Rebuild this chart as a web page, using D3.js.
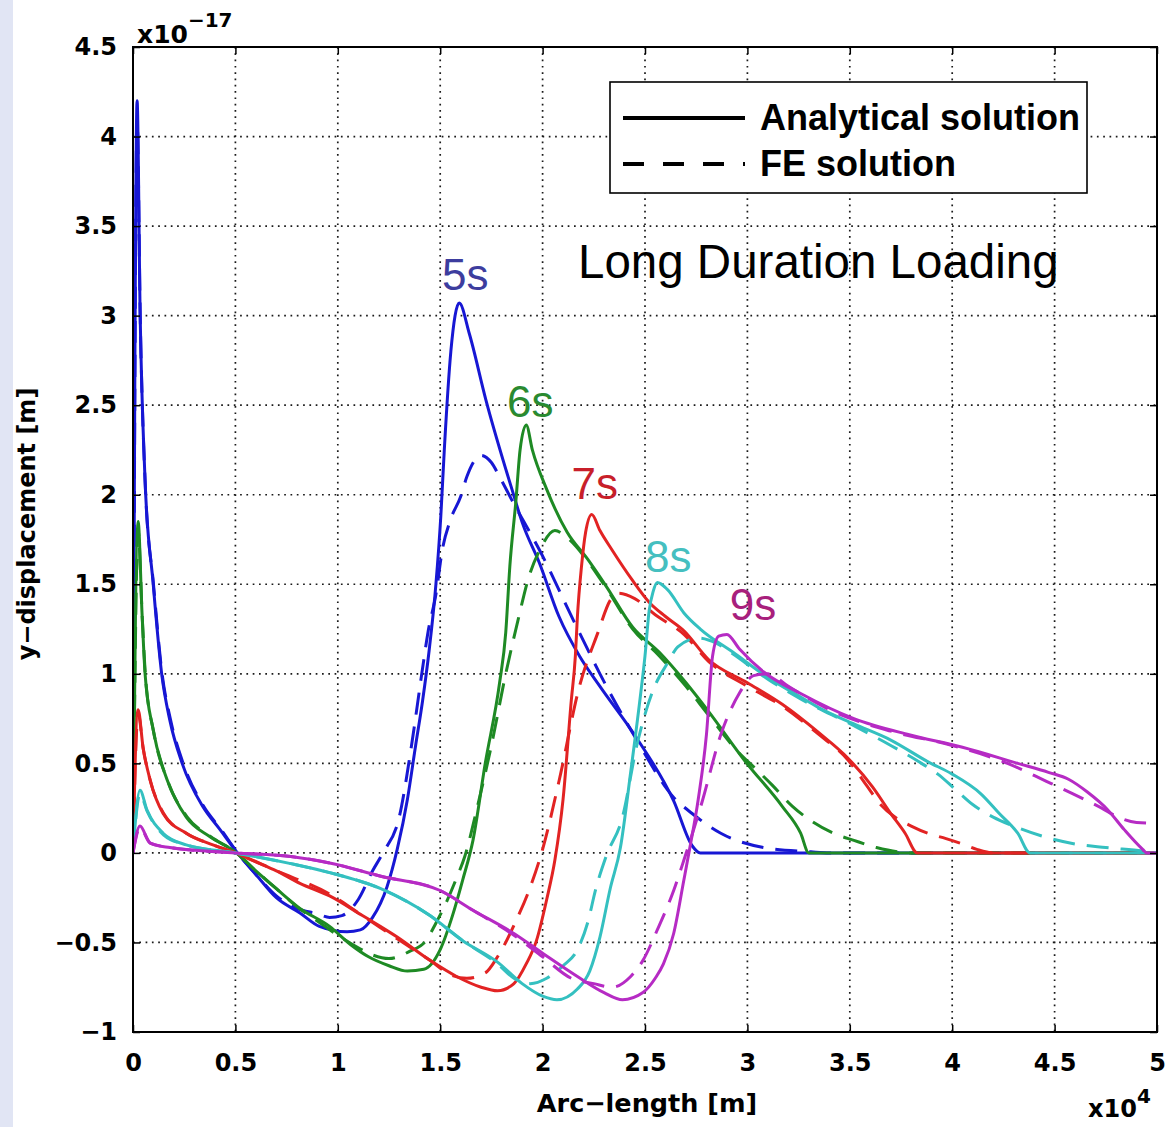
<!DOCTYPE html>
<html>
<head>
<meta charset="utf-8">
<script src="https://cdn.jsdelivr.net/npm/d3@7"></script>
<style>
	body { margin: 0; background: #fff; }
	svg { display: block; }
</style>
</head>
<body>
<script>
const w = 1173
const h = 1127
const plot = { left: 133, right: 1157, top: 47, bottom: 1032 }

// x: arc-length in 1e4 m, y: displacement in 1e-17 m
const xTicks = [0, 0.5, 1, 1.5, 2, 2.5, 3, 3.5, 4, 4.5, 5]
const yTicks = [-1, -0.5, 0, 0.5, 1, 1.5, 2, 2.5, 3, 3.5, 4, 4.5]
const times = ["5s", "6s", "7s", "8s", "9s"]
const legendLabels = ["Analytical solution", "FE solution"]

// 5s
const sol5 = [[0,0],[0.02,4.2],[0.035,3.0],[0.059,2.08],[0.098,1.51],[0.14,1.0],[0.18,0.74],[0.24,0.5],[0.34,0.26],[0.425,0.13],[0.51,0],[0.6,-0.12],[0.7,-0.25],[0.815,-0.335],[0.91,-0.41],[1.045,-0.44],[1.11,-0.43],[1.17,-0.36],[1.24,-0.19],[1.29,0.02],[1.34,0.3],[1.38,0.6],[1.414,0.85],[1.446,1.13],[1.479,1.5],[1.503,1.88],[1.52,2.25],[1.552,2.8],[1.593,3.07],[1.642,2.9],[1.723,2.53],[1.853,2.02],[1.902,1.84],[1.984,1.62],[2.08,1.32],[2.18,1.1],[2.28,0.93],[2.46,0.64],[2.64,0.29],[2.73,0.04],[2.77,0],[3.2,0],[5,0]]
const fe5 = [[0,0],[0.02,4.1],[0.036,2.95],[0.06,2.05],[0.1,1.5],[0.142,1.0],[0.182,0.75],[0.245,0.5],[0.345,0.26],[0.43,0.13],[0.51,0],[0.6,-0.12],[0.7,-0.24],[0.8,-0.31],[0.9,-0.34],[0.96,-0.36],[1.02,-0.35],[1.1,-0.26],[1.17,-0.1],[1.22,0],[1.3,0.2],[1.36,0.6],[1.41,1.0],[1.44,1.23],[1.48,1.45],[1.51,1.69],[1.55,1.86],[1.6,1.99],[1.63,2.1],[1.7,2.22],[1.75,2.18],[1.79,2.1],[1.85,1.97],[1.99,1.68],[2.15,1.3],[2.28,1.0],[2.46,0.63],[2.64,0.31],[2.73,0.22],[2.87,0.11],[3.08,0.03],[3.31,0.006],[3.4,0],[5,0]]

// 6s
const sol6 = [[0,0],[0.025,1.85],[0.044,1.34],[0.059,1.0],[0.098,0.69],[0.166,0.41],[0.26,0.2],[0.376,0.09],[0.5,0.005],[0.6,-0.1],[0.7,-0.2],[0.815,-0.31],[0.96,-0.41],[1.06,-0.51],[1.15,-0.58],[1.25,-0.63],[1.34,-0.66],[1.42,-0.65],[1.5,-0.54],[1.56,-0.35],[1.61,-0.15],[1.66,0.07],[1.72,0.5],[1.79,0.95],[1.82,1.23],[1.84,1.6],[1.87,1.97],[1.89,2.25],[1.92,2.39],[1.95,2.25],[2.02,2.03],[2.12,1.79],[2.22,1.64],[2.31,1.49],[2.44,1.26],[2.57,1.12],[2.7,0.95],[2.81,0.79],[2.99,0.51],[3.17,0.26],[3.26,0.11],[3.3,0],[5,0]]
const fe6 = [[0,0],[0.025,1.8],[0.045,1.32],[0.06,1.0],[0.1,0.68],[0.17,0.4],[0.265,0.2],[0.38,0.09],[0.5,0.005],[0.6,-0.1],[0.7,-0.2],[0.8,-0.3],[0.9,-0.38],[1.0,-0.46],[1.1,-0.53],[1.17,-0.57],[1.25,-0.59],[1.35,-0.55],[1.43,-0.49],[1.48,-0.39],[1.52,-0.3],[1.58,-0.14],[1.62,-0.02],[1.68,0.25],[1.75,0.6],[1.82,1.0],[1.88,1.3],[1.93,1.53],[1.99,1.7],[2.06,1.8],[2.12,1.76],[2.22,1.63],[2.31,1.48],[2.44,1.25],[2.57,1.1],[2.7,0.93],[2.81,0.77],[2.95,0.57],[3.04,0.47],[3.12,0.38],[3.22,0.26],[3.31,0.18],[3.42,0.11],[3.52,0.07],[3.63,0.03],[3.8,0],[5,0]]

// 7s
const sol7 = [[0,0],[0.025,0.8],[0.049,0.59],[0.083,0.41],[0.147,0.22],[0.26,0.11],[0.39,0.045],[0.5,0],[0.6,-0.05],[0.7,-0.1],[0.815,-0.17],[0.96,-0.24],[1.12,-0.35],[1.29,-0.47],[1.45,-0.6],[1.58,-0.69],[1.7,-0.75],[1.78,-0.77],[1.86,-0.73],[1.92,-0.62],[1.97,-0.49],[2.02,-0.26],[2.06,-0.04],[2.1,0.3],[2.14,0.85],[2.16,1.1],[2.17,1.32],[2.19,1.6],[2.21,1.79],[2.24,1.89],[2.28,1.8],[2.34,1.69],[2.44,1.52],[2.52,1.4],[2.6,1.32],[2.69,1.24],[2.81,1.08],[3.0,0.95],[3.17,0.83],[3.35,0.67],[3.49,0.53],[3.61,0.37],[3.7,0.22],[3.77,0.11],[3.83,0],[5,0]]
const fe7 = [[0,0],[0.025,0.78],[0.05,0.58],[0.085,0.4],[0.15,0.22],[0.26,0.11],[0.39,0.045],[0.5,0],[0.7,-0.1],[0.96,-0.23],[1.12,-0.35],[1.29,-0.48],[1.45,-0.6],[1.55,-0.68],[1.63,-0.7],[1.72,-0.67],[1.78,-0.58],[1.87,-0.38],[1.94,-0.19],[2.0,0.02],[2.08,0.4],[2.18,0.93],[2.27,1.23],[2.33,1.41],[2.37,1.45],[2.45,1.42],[2.55,1.33],[2.69,1.22],[2.81,1.07],[3.0,0.93],[3.17,0.82],[3.35,0.66],[3.49,0.52],[3.58,0.38],[3.65,0.27],[3.72,0.2],[3.8,0.15],[3.88,0.11],[3.97,0.08],[4.05,0.05],[4.12,0.02],[4.2,0],[5,0]]

// 8s
const sol8 = [[0,0],[0.034,0.35],[0.068,0.24],[0.147,0.11],[0.26,0.045],[0.5,0],[0.77,-0.06],[0.96,-0.11],[1.21,-0.2],[1.45,-0.35],[1.61,-0.49],[1.78,-0.61],[1.9,-0.73],[2.0,-0.8],[2.07,-0.82],[2.17,-0.76],[2.23,-0.66],[2.28,-0.47],[2.33,-0.2],[2.38,0.03],[2.43,0.45],[2.48,0.9],[2.5,1.1],[2.52,1.35],[2.54,1.46],[2.56,1.51],[2.61,1.47],[2.69,1.34],[2.77,1.25],[2.93,1.12],[3.1,0.98],[3.26,0.87],[3.35,0.81],[3.52,0.72],[3.7,0.63],[3.88,0.51],[4.0,0.44],[4.14,0.33],[4.23,0.22],[4.32,0.11],[4.38,0],[5,0]]
const fe8 = [[0,0],[0.034,0.33],[0.07,0.23],[0.15,0.1],[0.26,0.045],[0.5,0],[0.77,-0.06],[0.96,-0.11],[1.21,-0.2],[1.45,-0.35],[1.61,-0.49],[1.78,-0.62],[1.86,-0.7],[1.94,-0.73],[2.02,-0.7],[2.1,-0.63],[2.17,-0.54],[2.22,-0.39],[2.26,-0.2],[2.31,-0.02],[2.39,0.2],[2.46,0.6],[2.54,0.91],[2.61,1.06],[2.66,1.15],[2.76,1.2],[2.85,1.17],[2.93,1.11],[3.1,0.97],[3.26,0.86],[3.52,0.71],[3.7,0.6],[3.85,0.5],[3.93,0.44],[4.02,0.35],[4.1,0.27],[4.2,0.2],[4.3,0.15],[4.45,0.09],[4.6,0.05],[4.75,0.03],[4.93,0.01],[5,0]]

// 9s
const sol9 = [[0,0],[0.034,0.15],[0.083,0.055],[0.18,0.03],[0.5,0],[0.77,-0.02],[0.96,-0.056],[1.21,-0.13],[1.5,-0.21],[1.66,-0.32],[1.86,-0.45],[2.0,-0.56],[2.17,-0.69],[2.3,-0.78],[2.39,-0.82],[2.49,-0.78],[2.55,-0.7],[2.59,-0.62],[2.64,-0.45],[2.69,-0.15],[2.72,0.035],[2.76,0.3],[2.8,0.66],[2.83,1.1],[2.86,1.21],[2.9,1.22],[2.96,1.14],[3.08,1.01],[3.26,0.89],[3.52,0.75],[3.79,0.66],[4.05,0.59],[4.32,0.5],[4.47,0.45],[4.57,0.41],[4.66,0.34],[4.76,0.24],[4.84,0.13],[4.93,0.02],[4.95,0],[5,0]]
const fe9 = [[0,0],[0.034,0.14],[0.085,0.055],[0.18,0.03],[0.5,0],[0.77,-0.02],[0.96,-0.056],[1.21,-0.13],[1.5,-0.21],[1.66,-0.32],[1.86,-0.46],[2.0,-0.58],[2.14,-0.7],[2.25,-0.73],[2.34,-0.75],[2.43,-0.69],[2.49,-0.6],[2.56,-0.43],[2.64,-0.21],[2.69,-0.04],[2.78,0.29],[2.87,0.66],[2.96,0.89],[3.03,0.99],[3.1,1.0],[3.2,0.93],[3.4,0.8],[3.7,0.68],[4.0,0.6],[4.27,0.5],[4.46,0.4],[4.59,0.33],[4.73,0.25],[4.81,0.2],[4.9,0.17],[5,0.165]]

const series = [
	{ name: times[0], line: "#1717d4", label: "#3d3d9e", sol: sol5, fe: fe5, dx: 6, dy: -13 },
	{ name: times[1], line: "#1e8a24", label: "#2a8a30", sol: sol6, fe: fe6, dx: 4, dy: -8 },
	{ name: times[2], line: "#e22323", label: "#c81f2a", sol: sol7, fe: fe7, dx: 3, dy: -15 },
	{ name: times[3], line: "#34c0c0", label: "#45bfc0", sol: sol8, fe: fe8, dx: 11, dy: -10 },
	{ name: times[4], line: "#b62bc4", label: "#a8207c", sol: sol9, fe: fe9, dx: 26, dy: -14 }
]

const body = d3.select("body")
const svg = body.append("svg")
	.attr("width", w)
	.attr("height", h)

svg.append("rect")
	.attr("width", w)
	.attr("height", h)
	.attr("fill", "#fff")

// slide background strip on the left
svg.append("rect")
	.attr("width", 13)
	.attr("height", h)
	.attr("fill", "#e1e5f4")

let xScale = d3.scaleLinear()
	.domain([0, 5])
	.range([plot.left, plot.right])

let yScale = d3.scaleLinear()
	.domain([-1, 4.5])
	.range([plot.bottom, plot.top])

// dotted grid
let grid = svg.append("g")
	.attr("stroke", "#1a1a1a")
	.attr("stroke-width", 1.7)
	.attr("stroke-dasharray", "1.7,4.6")

grid.selectAll(".gx")
	.data(xTicks.slice(1, -1))
	.enter()
	.append("line")
	.attr("x1", d => xScale(d))
	.attr("x2", d => xScale(d))
	.attr("y1", plot.top)
	.attr("y2", plot.bottom)

grid.selectAll(".gy")
	.data(yTicks.slice(1, -1))
	.enter()
	.append("line")
	.attr("x1", plot.left)
	.attr("x2", plot.right)
	.attr("y1", d => yScale(d))
	.attr("y2", d => yScale(d))

// curves
svg.append("clipPath")
	.attr("id", "clip")
	.append("rect")
	.attr("x", plot.left)
	.attr("y", plot.top)
	.attr("width", plot.right - plot.left)
	.attr("height", plot.bottom - plot.top)

let line = d3.line()
	.x(d => xScale(d[0]))
	.y(d => yScale(d[1]))
	.curve(d3.curveMonotoneX)

let curves = svg.append("g")
	.attr("clip-path", "url(#clip)")
	.attr("fill", "none")
	.attr("stroke-width", 3)
	.attr("stroke-linejoin", "round")

series.forEach(s => {
	curves.append("path")
		.attr("d", line(s.fe))
		.attr("stroke", s.line)
		.attr("stroke-dasharray", "22,12")
	curves.append("path")
		.attr("d", line(s.sol))
		.attr("stroke", s.line)
})

// axes, ticks point inwards
let tickFont = g => g
	.attr("font-family", "DejaVu Sans, sans-serif")
	.attr("font-size", 24)
	.attr("font-weight", "bold")
	.call(g => g.select(".domain").remove())
	.call(g => g.selectAll("line").attr("stroke", "#000").attr("stroke-width", 1.5))

svg.append("g")
	.attr("transform", "translate(" + plot.left + ",0)")
	.call(d3.axisLeft(yScale).tickValues(yTicks).tickSize(-7).tickPadding(16).tickFormat(d3.format("~g")))
	.call(tickFont)

svg.append("g")
	.attr("transform", "translate(0," + plot.bottom + ")")
	.call(d3.axisBottom(xScale).tickValues(xTicks).tickSize(-7).tickPadding(22).tickFormat(d3.format("~g")))
	.call(tickFont)

svg.append("g")
	.attr("transform", "translate(" + plot.right + ",0)")
	.call(d3.axisRight(yScale).tickValues(yTicks).tickSize(-7).tickFormat(""))
	.call(tickFont)

svg.append("g")
	.attr("transform", "translate(0," + plot.top + ")")
	.call(d3.axisTop(xScale).tickValues(xTicks).tickSize(-7).tickFormat(""))
	.call(tickFont)

svg.append("rect")
	.attr("x", plot.left)
	.attr("y", plot.top)
	.attr("width", plot.right - plot.left)
	.attr("height", plot.bottom - plot.top)
	.attr("fill", "none")
	.attr("stroke", "#000")
	.attr("stroke-width", 2)

// exponent labels
let topExp = svg.append("text")
	.attr("x", plot.left + 4)
	.attr("y", 43)
	.attr("font-family", "DejaVu Sans, sans-serif")
	.attr("font-weight", "bold")
	.attr("font-size", 25)
topExp.append("tspan").text("x10")
topExp.append("tspan").attr("dy", -16).attr("font-size", 20).text("\u221217")

let botExp = svg.append("text")
	.attr("x", 1088)
	.attr("y", 1117)
	.attr("font-family", "DejaVu Sans, sans-serif")
	.attr("font-weight", "bold")
	.attr("font-size", 24)
botExp.append("tspan").text("x10")
botExp.append("tspan").attr("dy", -14).attr("font-size", 20).text("4")

// axis titles
svg.append("text")
	.attr("x", 647)
	.attr("y", 1112)
	.attr("text-anchor", "middle")
	.attr("font-family", "DejaVu Sans, sans-serif")
	.attr("font-weight", "bold")
	.attr("font-size", 25.5)
	.text("Arc\u2212length [m]")

svg.append("text")
	.attr("transform", "translate(35,524) rotate(-90)")
	.attr("text-anchor", "middle")
	.attr("font-family", "DejaVu Sans, sans-serif")
	.attr("font-weight", "bold")
	.attr("font-size", 24)
	.text("y\u2212displacement [m]")

// time labels above each analytical peak
series.forEach(s => {
	let peak = d3.greatest(s.sol.filter(p => p[0] > 1), p => p[1])
	svg.append("text")
		.attr("x", xScale(peak[0]) + s.dx)
		.attr("y", yScale(peak[1]) + s.dy)
		.attr("text-anchor", "middle")
		.attr("font-family", "Liberation Sans, Arial, sans-serif")
		.attr("font-size", 44)
		.attr("fill", s.label)
		.text(s.name)
})

svg.append("text")
	.attr("x", 578)
	.attr("y", 278)
	.attr("font-family", "Liberation Sans, Arial, sans-serif")
	.attr("font-size", 47.5)
	.attr("fill", "#000")
	.text("Long Duration Loading")

// legend
let legend = svg.append("g")

legend.append("rect")
	.attr("x", 610)
	.attr("y", 82)
	.attr("width", 477)
	.attr("height", 111)
	.attr("fill", "#fff")
	.attr("stroke", "#000")
	.attr("stroke-width", 1.6)

legend.selectAll("line")
	.data(legendLabels)
	.enter()
	.append("line")
	.attr("x1", 623)
	.attr("x2", 745)
	.attr("y1", (d, i) => 118 + i * 46)
	.attr("y2", (d, i) => 118 + i * 46)
	.attr("stroke", "#000")
	.attr("stroke-width", 4)
	.attr("stroke-dasharray", (d, i) => i ? "21,19" : null)

legend.selectAll("text")
	.data(legendLabels)
	.enter()
	.append("text")
	.attr("x", 760)
	.attr("y", (d, i) => 130 + i * 46)
	.attr("font-family", "Liberation Sans, Arial, sans-serif")
	.attr("font-weight", "bold")
	.attr("font-size", 36)
	.text(d => d)
</script>
</body>
</html>
